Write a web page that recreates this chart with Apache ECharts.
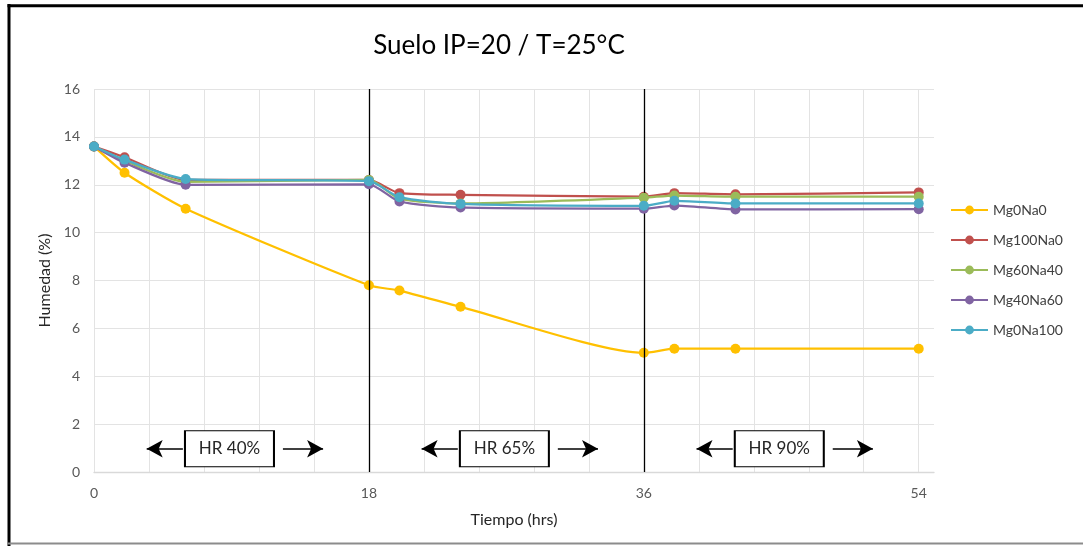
<!DOCTYPE html>
<html>
<head>
<meta charset="utf-8">
<script src="https://cdn.jsdelivr.net/npm/echarts@6/dist/echarts.min.js"></script>
<style>
html,body{margin:0;padding:0;background:#fff;}
#c{width:1083px;height:546px;}
</style>
</head>
<body>
<div id="c"></div>
<script>
// ---- data ----
const tiempo = [0, 2, 6, 18, 20, 24, 36, 38, 42, 54];
const seriesNames = ['Mg0Na0', 'Mg100Na0', 'Mg60Na40', 'Mg40Na60', 'Mg0Na100'];
const mg0na0   = [13.6, 12.5, 11.0, 7.8, 7.58, 6.9, 4.98, 5.15, 5.15, 5.15];
const mg100na0 = [13.6, 13.15, 12.2, 12.2, 11.65, 11.58, 11.5, 11.65, 11.6, 11.68];
const mg60na40 = [13.6, 13.0, 12.12, 12.2, 11.42, 11.22, 11.46, 11.55, 11.5, 11.5];
const mg40na60 = [13.6, 12.92, 12.0, 12.02, 11.3, 11.05, 11.0, 11.13, 10.97, 10.98];
const mg0na100 = [13.6, 13.05, 12.24, 12.15, 11.48, 11.2, 11.12, 11.33, 11.22, 11.22];
const allValues = [mg0na0, mg100na0, mg60na40, mg40na60, mg0na100];
const colors = ['#FFC000', '#C0504D', '#9BBB59', '#8064A2', '#4BACC6'];
const xLabelTicks = [0, 18, 36, 54];
const phaseBounds = [18, 36];
const phaseLabels = ['HR 40%', 'HR 65%', 'HR 90%'];
const phaseStarts = [0, 18, 36];

const FONT = 'Lato';
const chart = echarts.init(document.getElementById('c'));

const lineSeries = seriesNames.map((n, i) => ({
  name: n,
  type: 'line',
  smooth: 0.22,
  symbol: 'circle',
  symbolSize: 10,
  lineStyle: { width: 2.25, color: colors[i] },
  itemStyle: { color: colors[i] },
  data: tiempo.map((t, j) => [t, allValues[i][j]]),
  z: 3 + i
}));

// annotation series: vertical dividers, boxes, arrows
const boxY = 0.97;
const annot = {
  name: 'annot',
  type: 'line',
  data: [],
  silent: true,
  z: 10,
  markLine: {
    silent: true,
    symbol: ['none', 'none'],
    label: { show: false },
    lineStyle: { color: '#000', width: 1.3, type: 'solid' },
    data: phaseBounds.map(b => [{ coord: [b, 0] }, { coord: [b, 16] }])
  },
  markPoint: {
    silent: true,
    symbol: 'rect',
    symbolSize: [89, 36],
    itemStyle: { color: '#fff', borderColor: '#000', borderWidth: 1.3 },
    label: { show: true, position: 'inside', color: '#262626', fontSize: 17, fontFamily: FONT },
    data: phaseStarts.map((s, k) => ({ coord: [s + 8.87, boxY], value: phaseLabels[k],
      label: { formatter: phaseLabels[k] } }))
  }
};
const arrows = {
  name: 'arrows',
  type: 'line',
  data: [],
  silent: true,
  z: 10,
  markLine: {
    silent: true,
    symbol: ['none', 'arrow'],
    symbolSize: [13, 16],
    label: { show: false },
    lineStyle: { color: '#000', width: 1.5, type: 'solid' },
    data: phaseStarts.flatMap(s => [
      [{ coord: [s + 5.82, boxY] }, { coord: [s + 3.45, boxY] }],
      [{ coord: [s + 12.37, boxY] }, { coord: [s + 15.0, boxY] }]
    ])
  }
};

const splitColors = [];
for (let i = 0; i < 16; i++) splitColors.push('#e3e3e3');
splitColors.push('rgba(0,0,0,0)');

chart.setOption({
  backgroundColor: '#fff',
  animation: false,
  textStyle: { fontFamily: FONT },
  title: {
    text: 'Suelo IP=20 / T=25°C',
    left: 494, top: 28, textAlign: 'center',
    textStyle: { fontFamily: FONT, fontSize: 26, fontWeight: 'normal', color: '#000' }
  },
  legend: {
    data: seriesNames,
    orient: 'vertical',
    left: 945, top: 198,
    itemWidth: 37, itemHeight: 11, itemGap: 16,
    textStyle: { fontFamily: FONT, fontSize: 14, color: '#404040' }
  },
  grid: { left: 94, right: 149, top: 89, bottom: 74, containLabel: false },
  xAxis: {
    type: 'value', min: 0, max: 55, interval: 3.6,
    name: 'Tiempo (hrs)', nameLocation: 'middle', nameGap: 40,
    nameTextStyle: { fontFamily: FONT, fontSize: 16, color: '#262626' },
    axisLine: { show: true, lineStyle: { color: '#d9d9d9', width: 1.3 } },
    axisTick: { show: false },
    splitLine: { show: true, lineStyle: { color: splitColors, width: 1 } },
    axisLabel: {
      margin: 14, fontFamily: FONT, fontSize: 14, color: '#595959',
      showMaxLabel: false,
      formatter: v => xLabelTicks.some(t => Math.abs(t - v) < 1e-6) ? String(Math.round(v)) : ''
    }
  },
  yAxis: {
    type: 'value', min: 0, max: 16, interval: 2,
    name: 'Humedad (%)', nameLocation: 'middle', nameGap: 38, nameRotate: 90,
    nameTextStyle: { fontFamily: FONT, fontSize: 16, color: '#262626' },
    axisLine: { show: false },
    axisTick: { show: false },
    splitLine: { show: true, lineStyle: { color: '#e3e3e3', width: 1 } },
    axisLabel: { margin: 14, fontFamily: FONT, fontSize: 14, color: '#595959' }
  },
  graphic: [
    { type: 'line', shape: { x1: 9, y1: 4, x2: 9, y2: 546 }, style: { stroke: '#000', lineWidth: 3 } },
    { type: 'line', shape: { x1: 7.5, y1: 5.7, x2: 1083, y2: 5.7 }, style: { stroke: '#000', lineWidth: 3 } },
    { type: 'line', shape: { x1: 7.5, y1: 543.5, x2: 1083, y2: 543.5 }, style: { stroke: '#8c8c8c', lineWidth: 2 } }
  ],
  series: [annot, arrows].concat(lineSeries)
});
</script>
</body>
</html>
